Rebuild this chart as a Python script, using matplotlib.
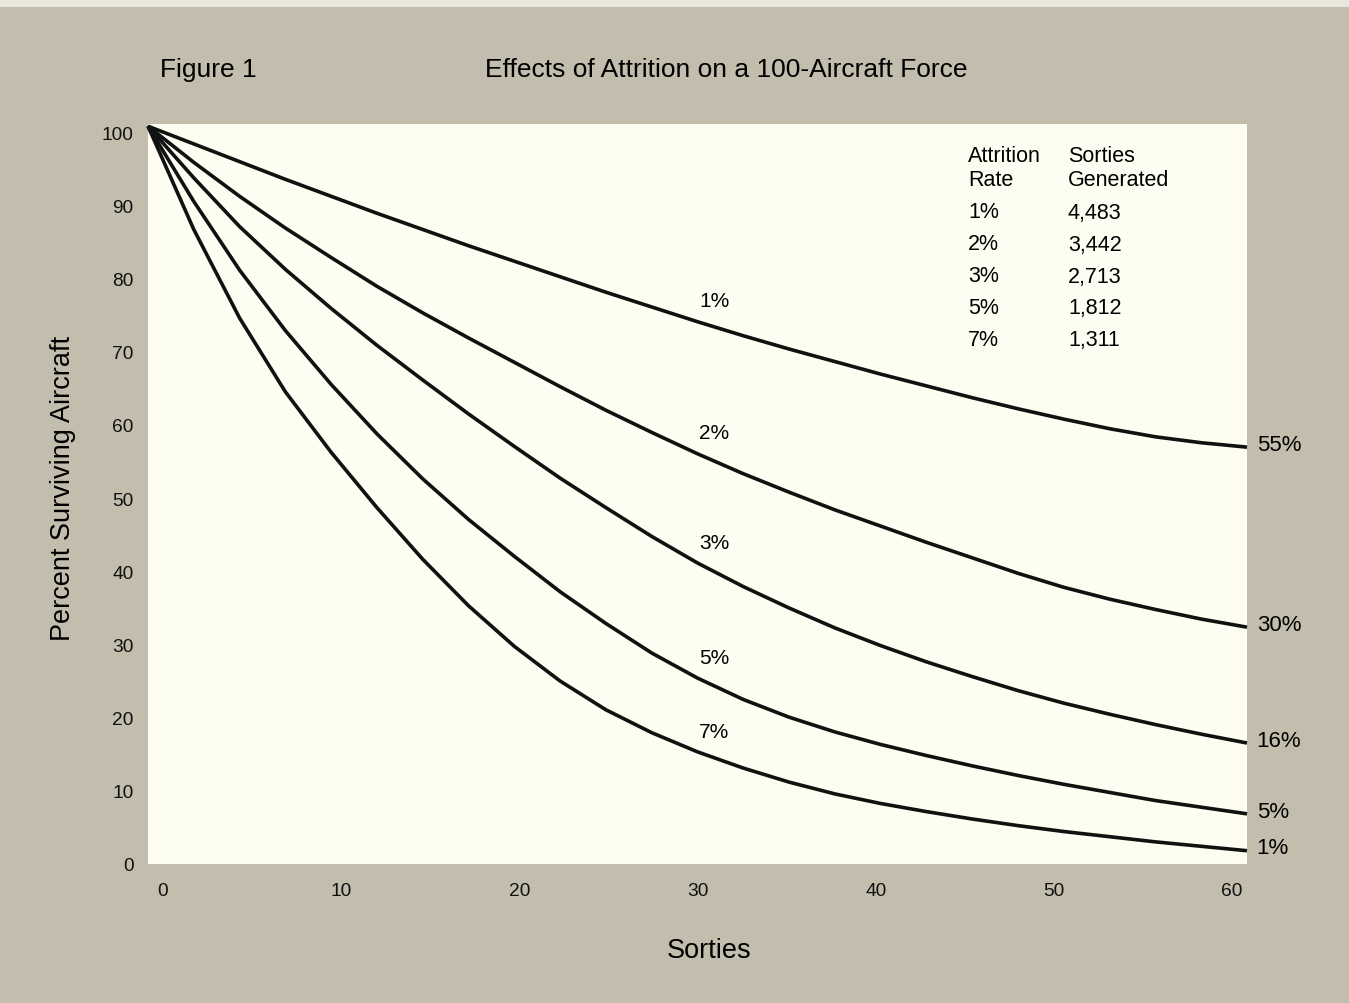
import matplotlib
matplotlib.use("Agg")
import matplotlib.pyplot as plt
from matplotlib.patches import Rectangle
from matplotlib.transforms import ScaledTranslation

plt.rcParams['font.family'] = ['Liberation Sans', 'DejaVu Sans']

# ---- data ----
sorties = [0, 2.5, 5, 7.5, 10, 12.5, 15, 17.5, 20, 22.5, 25, 27.5, 30,
           32.5, 35, 37.5, 40, 42.5, 45, 47.5, 50, 52.5, 55, 57.5, 60]
surv_1 = [100, 97.6, 95.2, 92.8, 90.5, 88.2, 86.0, 83.8, 81.7, 79.6, 77.5, 75.5, 73.5,
          71.6, 69.8, 68.1, 66.4, 64.8, 63.2, 61.7, 60.3, 59.0, 57.9, 57.1, 56.5]
surv_2 = [100, 95.1, 90.5, 86.2, 82.2, 78.3, 74.7, 71.3, 68.0, 64.7, 61.5, 58.5, 55.6,
          52.9, 50.4, 48.0, 45.8, 43.6, 41.5, 39.4, 37.5, 35.9, 34.5, 33.2, 32.1]
surv_3 = [100, 93.0, 86.4, 80.6, 75.3, 70.3, 65.6, 61.0, 56.6, 52.3, 48.3, 44.4, 40.8,
          37.6, 34.7, 32.0, 29.6, 27.4, 25.4, 23.5, 21.8, 20.3, 18.9, 17.6, 16.4]
surv_5 = [100, 89.8, 80.5, 72.3, 65.0, 58.3, 52.2, 46.7, 41.7, 36.9, 32.6, 28.6, 25.2,
          22.3, 19.9, 17.9, 16.2, 14.7, 13.3, 12.0, 10.8, 9.7, 8.6, 7.7, 6.8]
surv_7 = [100, 86.0, 74.0, 64.0, 55.8, 48.3, 41.3, 35.0, 29.5, 24.8, 20.9, 17.8, 15.2,
          13.0, 11.1, 9.5, 8.2, 7.1, 6.1, 5.2, 4.4, 3.7, 3.0, 2.4, 1.8]
series = [surv_1, surv_2, surv_3, surv_5, surv_7]
rate_labels = ["1%", "2%", "3%", "5%", "7%"]
end_labels = ["55%", "30%", "16%", "5%", "1%"]
sorties_generated = ["4,483", "3,442", "2,713", "1,812", "1,311"]
x_ticks = [0, 10, 20, 30, 40, 50, 60]
y_ticks = [0, 10, 20, 30, 40, 50, 60, 70, 80, 90, 100]

W, H = 1349, 1004
fig = plt.figure(figsize=(W / 100, H / 100), dpi=100)
fig.patch.set_facecolor('#c2bdac')
fig.patches.append(Rectangle((0, 1 - 8 / H), 1, 8 / H, transform=fig.transFigure,
                             facecolor='#e9e7de', edgecolor='none', zorder=0))

ax = fig.add_axes([148 / W, 1 - 865 / H, (1247 - 148) / W, (865 - 125) / H])
ax.set_facecolor('#fefdf1')
for s in ax.spines.values():
    s.set_visible(False)
ax.set_xlim(0, 60)
ax.set_ylim(0, 100.3)

for vals in series:
    ax.plot(sorties, vals, color='#111111', lw=2.6, solid_capstyle='butt',
            solid_joinstyle='round', clip_on=False)

# labels on curves at 30 sorties
i30 = sorties.index(30)
for vals, lab in zip(series, rate_labels):
    ax.annotate(lab, (30, vals[i30]), xytext=(12, 15), textcoords='offset points',
                ha='center', va='center', fontsize=15)
# end labels
for vals, lab in zip(series, end_labels):
    ax.annotate(lab, (60, vals[-1]), xytext=(7, 2), textcoords='offset points',
                ha='left', va='center', fontsize=16, annotation_clip=False)

# ticks
ax.set_xticks(x_ticks)
ax.set_xticklabels([str(t) for t in x_ticks])
ax.set_yticks(y_ticks)
ax.set_yticklabels([str(t) for t in y_ticks])
ax.tick_params(axis='both', length=0, labelsize=13.8, colors='#111111')
ax.tick_params(axis='x', pad=13)
ax.tick_params(axis='y', pad=10.5)
for t, lab in zip(x_ticks, ax.get_xticklabels()):
    dx = (15 - 0.5 * t) / 100.0
    lab.set_transform(lab.get_transform() + ScaledTranslation(dx, 0, fig.dpi_scale_trans))
for t, lab in zip(y_ticks, ax.get_yticklabels()):
    dy = -(6 * t / 100.0) / 100.0
    lab.set_transform(lab.get_transform() + ScaledTranslation(0, dy, fig.dpi_scale_trans))

# table of sorties generated
col1, col2 = 968 / W, 1068 / W
fs_tab = 15.5
fig.text(col1, 1 - 157 / H, "Attrition", fontsize=fs_tab, va='center', ha='left')
fig.text(col1, 1 - 181 / H, "Rate", fontsize=fs_tab, va='center', ha='left')
fig.text(col2, 1 - 157 / H, "Sorties", fontsize=fs_tab, va='center', ha='left')
fig.text(col2, 1 - 181 / H, "Generated", fontsize=fs_tab, va='center', ha='left')
for k, (r, g) in enumerate(zip(rate_labels, sorties_generated)):
    yy = 1 - (213 + 32 * k) / H
    fig.text(col1, yy, r, fontsize=fs_tab, va='center', ha='left')
    fig.text(col2, yy, g, fontsize=fs_tab, va='center', ha='left')

# titles and axis labels
fig.text(160 / W, 1 - 70 / H, "Figure 1", fontsize=19, va='center', ha='left')
fig.text(485 / W, 1 - 70 / H, "Effects of Attrition on a 100-Aircraft Force",
         fontsize=19, va='center', ha='left')
fig.text(709 / W, 1 - 951 / H, "Sorties", fontsize=19.5, va='center', ha='center')
fig.text(63 / W, 1 - 488 / H, "Percent Surviving Aircraft", fontsize=19.5,
         va='center', ha='center', rotation=90)

fig.savefig("out.png", dpi=100, facecolor=fig.get_facecolor())
